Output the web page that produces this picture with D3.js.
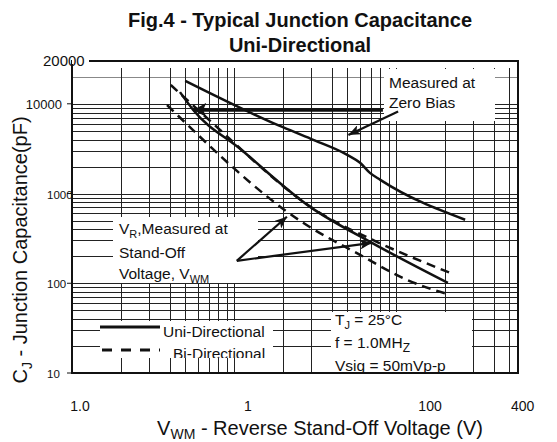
<!DOCTYPE html>
<html>
<head>
<meta charset="utf-8">
<script src="https://cdn.jsdelivr.net/npm/d3@7"></script>
<style>
body { margin: 0; background: #fff; }
text { font-family: "Liberation Sans", Arial, sans-serif; fill: #111; }
</style>
</head>
<body>
<div class="mydiv"></div>
<script>
var width = 557;
var height = 442;

// curves (V in volts, C in pF)
var uniZeroV  = [5, 19, 30, 50, 60, 69, 80, 267];
var uniZeroC  = [18000, 5700, 4050, 2700, 2200, 1700, 1420, 510];
var uniStandV = [4.64, 5.6, 10.9, 29.5, 71, 209];
var uniStandC = [13500, 8550, 3150, 710, 282, 101];
var biUpperV  = [4.07, 6.2, 35.4, 76, 215];
var biUpperC  = [16200, 8100, 580, 290, 131];
var biLowerV  = [3.86, 26.7, 60, 117, 215];
var biLowerC  = [9700, 472, 207, 109, 74.5];

// tick labels as printed on the original (the labels are not at their true values)
var xTickVals   = [1, 10, 100, 400];
var xTickLabels = ["1.0", "1", "100", "400"];
var yTickVals   = [10, 100, 1000, 10000, 30000];
var yTickLabels = ["10", "100", "1000", "10000", "20000"];

// arrows: [fromV, fromC] -> [toV, toC]
var arrowFrom = [[83, 8550], [103, 8200], [10.4, 178], [10.4, 178]];
var arrowTo   = [[5.6, 8550], [50.8, 4500], [21.2, 551], [71, 282]];

var x = d3.scaleLog().domain([1, 566]).range([72, 518]);
var y = d3.scaleLog().domain([10, 30000]).range([373, 61]);

var svg = d3.select(".mydiv").append("svg")
    .attr("width", width)
    .attr("height", height);

var defs = svg.append("defs");

defs.append("marker")
    .attr("id", "head")
    .attr("markerUnits", "userSpaceOnUse")
    .attr("markerWidth", 13).attr("markerHeight", 10)
    .attr("refX", 12).attr("refY", 5)
    .attr("orient", "auto")
  .append("path")
    .attr("d", "M0,0 L12,5 L0,10 L3,5 z")
    .attr("fill", "#111");

defs.append("marker")
    .attr("id", "headBig")
    .attr("markerUnits", "userSpaceOnUse")
    .attr("markerWidth", 14).attr("markerHeight", 14)
    .attr("refX", 13).attr("refY", 7)
    .attr("orient", "auto")
  .append("path")
    .attr("d", "M0,0 L13,7 L0,14 L3,7 z")
    .attr("fill", "#111");

// grid
var xMinor = x.ticks().filter(function(d) { return d > 1 && d < 560; });
var yMinor = y.ticks().filter(function(d) { return d > 10 && d < 30000; });

svg.append("g").selectAll("line")
    .data(yMinor)
  .enter().append("line")
    .attr("x1", 72).attr("x2", 518)
    .attr("y1", function(d) { return Math.round(y(d)) + 0.5; })
    .attr("y2", function(d) { return Math.round(y(d)) + 0.5; })
    .attr("stroke", function(d) { return d == 20000 ? "#888" : "#222"; })
    .attr("stroke-width", 1);

svg.append("g").selectAll("line")
    .data(xMinor)
  .enter().append("line")
    .attr("y1", 373).attr("y2", 68)
    .attr("x1", function(d) { return Math.round(x(d)) + 0.5; })
    .attr("x2", function(d) { return Math.round(x(d)) + 0.5; })
    .attr("stroke", "#222")
    .attr("stroke-width", 1);

// white label boxes sitting on the grid
var boxes = [
  {id: "bZero",  x: 384, y: 69,  w: 111, h: 52},
  {id: "bVr",    x: 113, y: 217, w: 145, h: 66},
  {id: "bLeg",   x: 100, y: 321, w: 173, h: 37},
  {id: "bCond",  x: 331, y: 312, w: 141, h: 60}
];
boxes.forEach(function(b) {
  svg.append("rect")
      .attr("x", b.x).attr("y", b.y)
      .attr("width", b.w).attr("height", b.h)
      .attr("fill", "#fff");
  defs.append("clipPath").attr("id", b.id)
    .append("rect")
      .attr("x", b.x).attr("y", b.y)
      .attr("width", b.w).attr("height", b.h);
});

// frame
svg.append("rect")
    .attr("x", 72).attr("y", 61)
    .attr("width", 446).attr("height", 312)
    .attr("fill", "none")
    .attr("stroke", "#111")
    .attr("stroke-width", 2);

// curves
function series(vs, cs) {
  return vs.map(function(v, i) { return [v, cs[i]]; });
}
var line = d3.line()
    .x(function(d) { return x(d[0]); })
    .y(function(d) { return y(d[1]); })
    .curve(d3.curveMonotoneX);

svg.append("path")
    .datum(series(uniZeroV, uniZeroC))
    .attr("d", line)
    .attr("fill", "none").attr("stroke", "#111").attr("stroke-width", 2.5);

svg.append("path")
    .datum(series(uniStandV, uniStandC))
    .attr("d", line)
    .attr("fill", "none").attr("stroke", "#111").attr("stroke-width", 2.5);

svg.append("path")
    .datum(series(biUpperV, biUpperC))
    .attr("d", line)
    .attr("fill", "none").attr("stroke", "#111").attr("stroke-width", 2.5)
    .attr("stroke-dasharray", "9,6");

svg.append("path")
    .datum(series(biLowerV, biLowerC))
    .attr("d", line)
    .attr("fill", "none").attr("stroke", "#111").attr("stroke-width", 2.5)
    .attr("stroke-dasharray", "9,6");

// arrows
svg.append("g").selectAll("line")
    .data(arrowFrom)
  .enter().append("line")
    .attr("x1", function(d) { return x(d[0]); })
    .attr("y1", function(d) { return y(d[1]); })
    .attr("x2", function(d, i) { return x(arrowTo[i][0]); })
    .attr("y2", function(d, i) { return y(arrowTo[i][1]); })
    .attr("stroke", "#111")
    .attr("stroke-width", function(d, i) { return i == 0 ? 3.5 : 2.2; })
    .attr("marker-end", function(d, i) { return i == 0 ? "url(#headBig)" : "url(#head)"; });

// annotation text
var note = svg.append("g").style("font-size", "15.5px");

note.append("text").attr("x", 389).attr("y", 88).text("Measured at");
note.append("text").attr("x", 389).attr("y", 108).text("Zero Bias");

var t1 = note.append("text").attr("x", 119).attr("y", 234);
t1.append("tspan").text("V");
t1.append("tspan").attr("dy", 4).style("font-size", "11px").text("R");
t1.append("tspan").attr("dy", -4).text(",Measured at");
note.append("text").attr("x", 119).attr("y", 258).text("Stand-Off");
var t3 = note.append("text").attr("x", 119).attr("y", 279);
t3.append("tspan").text("Voltage, V");
t3.append("tspan").attr("dy", 4).style("font-size", "11px").text("WM");

// legend
var leg = svg.append("g").attr("clip-path", "url(#bLeg)");
leg.append("line")
    .attr("x1", 100).attr("x2", 160).attr("y1", 327).attr("y2", 327)
    .attr("stroke", "#111").attr("stroke-width", 3);
leg.append("line")
    .attr("x1", 102).attr("x2", 160).attr("y1", 350).attr("y2", 350)
    .attr("stroke", "#111").attr("stroke-width", 3)
    .attr("stroke-dasharray", "10,9");
leg.append("text").attr("x", 163).attr("y", 337).style("font-size", "15.5px").text("Uni-Directional");
leg.append("text").attr("x", 173).attr("y", 359).style("font-size", "15.5px").text("Bi-Directional");

// test conditions
var cond = svg.append("g").attr("clip-path", "url(#bCond)").style("font-size", "15.5px");
var c1 = cond.append("text").attr("x", 335).attr("y", 325);
c1.append("tspan").text("T");
c1.append("tspan").attr("dy", 4).style("font-size", "11px").text("J");
c1.append("tspan").attr("dy", -4).text(" = 25°C");
var c2 = cond.append("text").attr("x", 335).attr("y", 348);
c2.append("tspan").text("f = 1.0MH");
c2.append("tspan").attr("dy", 4).style("font-size", "12px").text("Z");
cond.append("text").attr("x", 335).attr("y", 371).text("Vsig = 50mVp-p");

// y tick labels
svg.append("g").selectAll("line")
    .data(yTickVals.slice(0, 4))
  .enter().append("line")
    .attr("x1", 67).attr("x2", 72)
    .attr("y1", function(d) { return y(d); })
    .attr("y2", function(d) { return y(d); })
    .attr("stroke", "#111");

svg.append("rect")
    .attr("x", 72).attr("y", 56).attr("width", 17).attr("height", 8)
    .attr("fill", "#fff");

svg.append("g").selectAll("text")
    .data(yTickVals)
  .enter().append("text")
    .attr("x", function(d, i) { return i == 4 ? 43 : i == 3 ? 62 : 47; })
    .attr("y", function(d) { return y(d) + 5; })
    .attr("text-anchor", function(d, i) { return i == 3 ? "end" : "start"; })
    .style("font-size", function(d, i) { return i == 4 ? "15px" : i == 3 ? "13px" : "11.5px"; })
    .text(function(d, i) { return yTickLabels[i]; });

// x tick labels (printed off their gridlines in the original)
var xNudge = [8, 14, 34, 29];
svg.append("g").selectAll("text")
    .data(xTickVals)
  .enter().append("text")
    .attr("x", function(d, i) { return x(d) + xNudge[i]; })
    .attr("y", 411)
    .attr("text-anchor", "middle")
    .style("font-size", "14px")
    .text(function(d, i) { return xTickLabels[i]; });

// axis titles
var xt = svg.append("text")
    .attr("x", 320).attr("y", 435)
    .attr("text-anchor", "middle")
    .style("font-size", "20px");
xt.append("tspan").text("V");
xt.append("tspan").attr("dy", 4).style("font-size", "14px").text("WM");
xt.append("tspan").attr("dy", -4).text(" - Reverse Stand-Off Voltage (V)");

var yt = svg.append("text")
    .attr("transform", "translate(27,250) rotate(-90)")
    .attr("text-anchor", "middle")
    .style("font-size", "20px");
yt.append("tspan").text("C");
yt.append("tspan").attr("dy", 5).style("font-size", "14px").text("J");
yt.append("tspan").attr("dy", -5).text(" - Junction Capacitance(pF)");

// title
svg.append("text")
    .attr("x", 300).attr("y", 27)
    .attr("text-anchor", "middle")
    .style("font-size", "20px").style("font-weight", "bold")
    .text("Fig.4 - Typical Junction Capacitance");
svg.append("text")
    .attr("x", 300).attr("y", 52)
    .attr("text-anchor", "middle")
    .style("font-size", "20px").style("font-weight", "bold")
    .text("Uni-Directional");
</script>
</body>
</html>
